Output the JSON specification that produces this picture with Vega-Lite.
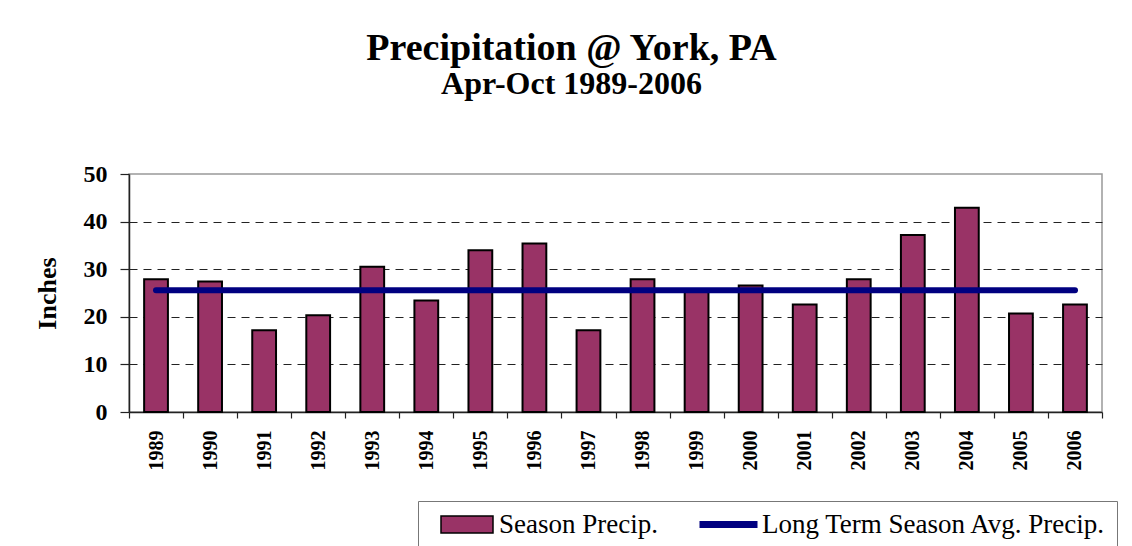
{
  "$schema": "https://vega.github.io/schema/vega-lite/v6.json",
  "autosize": {"type": "none"},
  "width": 973,
  "height": 238,
  "padding": {"left": 129, "top": 174, "right": 30, "bottom": 134},
  "background": "white",
  "title": {
    "text": "Precipitation @ York, PA",
    "subtitle": "Apr-Oct 1989-2006",
    "anchor": "middle",
    "dx": -44,
    "offset": 62,
    "font": "Liberation Serif",
    "fontSize": 38,
    "fontWeight": "bold",
    "color": "black",
    "subtitleFont": "Liberation Serif",
    "subtitleFontSize": 32,
    "subtitleFontWeight": "bold",
    "subtitleColor": "black",
    "subtitlePadding": 1
  },
  "data": {
    "values": [
      {"year": "1989", "precip": 27.9, "avg": 25.6},
      {"year": "1990", "precip": 27.4, "avg": 25.6},
      {"year": "1991", "precip": 17.2, "avg": 25.6},
      {"year": "1992", "precip": 20.3, "avg": 25.6},
      {"year": "1993", "precip": 30.5, "avg": 25.6},
      {"year": "1994", "precip": 23.4, "avg": 25.6},
      {"year": "1995", "precip": 34.0, "avg": 25.6},
      {"year": "1996", "precip": 35.4, "avg": 25.6},
      {"year": "1997", "precip": 17.2, "avg": 25.6},
      {"year": "1998", "precip": 27.9, "avg": 25.6},
      {"year": "1999", "precip": 25.8, "avg": 25.6},
      {"year": "2000", "precip": 26.6, "avg": 25.6},
      {"year": "2001", "precip": 22.6, "avg": 25.6},
      {"year": "2002", "precip": 27.9, "avg": 25.6},
      {"year": "2003", "precip": 37.2, "avg": 25.6},
      {"year": "2004", "precip": 42.9, "avg": 25.6},
      {"year": "2005", "precip": 20.7, "avg": 25.6},
      {"year": "2006", "precip": 22.6, "avg": 25.6}
    ]
  },
  "encoding": {
    "x": {
      "field": "year",
      "type": "ordinal",
      "scale": {"paddingInner": 0, "paddingOuter": 0},
      "axis": {
        "title": null,
        "labelAngle": -90,
        "labelFont": "Liberation Serif",
        "labelFontSize": 20,
        "labelFontWeight": "bold",
        "labelColor": "black",
        "labelPadding": 12,
        "tickSize": 6,
        "tickBand": "extent",
        "tickColor": "#222",
        "tickWidth": 1.2,
        "domainColor": "#222",
        "domainWidth": 1.5
      }
    }
  },
  "layer": [
    {
      "mark": {"type": "bar", "width": {"band": 0.44}, "stroke": "black", "strokeWidth": 2},
      "encoding": {
        "y": {
          "field": "precip",
          "type": "quantitative",
          "scale": {"domain": [0, 50], "nice": false},
          "axis": {
            "title": "Inches",
            "titleFont": "Liberation Serif",
            "titleFontSize": 26,
            "titleFontWeight": "bold",
            "titleColor": "black",
            "titleAngle": -90,
            "titleAlign": "center",
            "titleBaseline": "middle",
            "titleX": -82,
            "titleY": 119,
            "values": [0, 10, 20, 30, 40, 50],
            "labelFont": "Liberation Serif",
            "labelFontSize": 24,
            "labelFontWeight": "bold",
            "labelColor": "black",
            "labelPadding": 13,
            "tickSize": 9,
            "tickColor": "#222",
            "tickWidth": 1.2,
            "domainColor": "#222",
            "domainWidth": 1.5,
            "grid": true,
            "gridColor": "#222",
            "gridDash": [8, 6],
            "gridWidth": 1,
            "gridOpacity": {"condition": {"test": "datum.value == 50 || datum.value == 0", "value": 0}, "value": 1}
          }
        },
        "fill": {
          "datum": "Season Precip.",
          "type": "nominal",
          "scale": {"domain": ["Season Precip."], "range": ["#993366"]},
          "legend": {
            "orient": "none",
            "legendX": 304.5,
            "legendY": 337,
            "direction": "horizontal",
            "title": null,
            "padding": 0,
            "strokeColor": "transparent",
            "fillColor": "transparent",
            "labelFont": "Liberation Serif",
            "labelFontSize": 27,
            "labelColor": "black",
            "labelLimit": 500,
            "labelOffset": 18.5,
            "symbolType": "M-5.2,-1.7H5.2V1.7H-5.2Z",
            "symbolSize": 100,
            "symbolOffset": 20,
            "symbolStrokeColor": "black",
            "symbolStrokeWidth": 1.5,
            "symbolOpacity": 1
          }
        }
      }
    },
    {
      "mark": {"type": "line", "strokeWidth": 6, "strokeCap": "round"},
      "encoding": {
        "y": {"field": "avg", "type": "quantitative"},
        "stroke": {
          "datum": "Long Term Season Avg. Precip.",
          "type": "nominal",
          "scale": {"domain": ["Long Term Season Avg. Precip."], "range": ["#000080"]},
          "legend": {
            "orient": "none",
            "legendX": 289,
            "legendY": 327,
            "direction": "horizontal",
            "title": " ",
            "titleOrient": "left",
            "titleFontSize": 26,
            "titlePadding": 267,
            "padding": 10,
            "strokeColor": "#777",
            "fillColor": "transparent",
            "labelFont": "Liberation Serif",
            "labelFontSize": 27,
            "labelColor": "black",
            "labelLimit": 500,
            "labelOffset": 20,
            "symbolType": "M-5.8,0H5.8",
            "symbolSize": 100,
            "symbolOffset": 20,
            "symbolStrokeWidth": 7,
            "symbolOpacity": 1
          }
        }
      }
    }
  ],
  "config": {
    "view": {"stroke": "#999", "strokeWidth": 1.5},
    "font": "Liberation Serif"
  }
}
